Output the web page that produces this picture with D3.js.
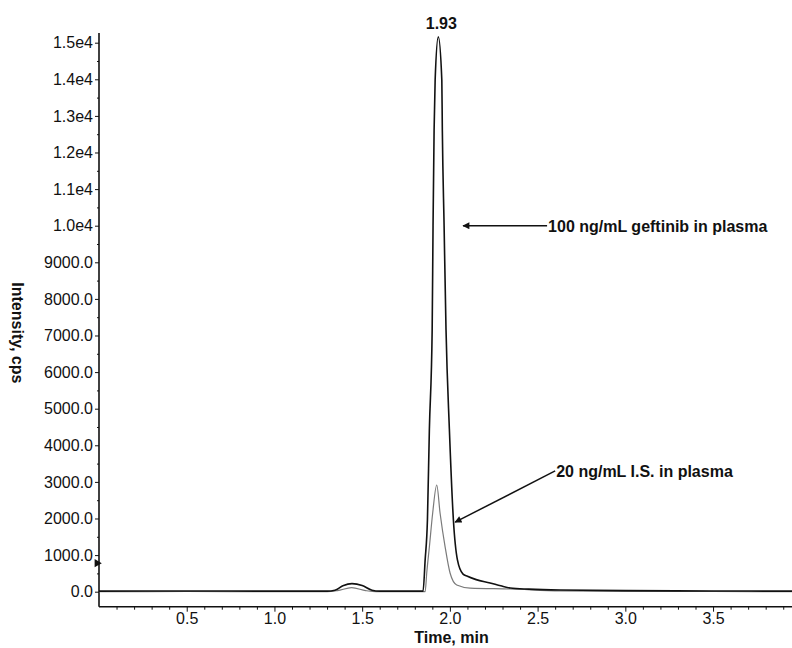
<!DOCTYPE html>
<html>
<head>
<meta charset="utf-8">
<script src="https://cdn.jsdelivr.net/npm/d3@7"></script>
<style>
  body { margin: 0; background: #fff; }
  svg { display: block; font-family: "Liberation Sans", Arial, sans-serif; }
</style>
</head>
<body>
<svg id="chart" width="792" height="648"></svg>
<script>
// chromatogram traces (time in min, intensity in cps)
const gefTime = [0.0, 0.5, 1.0, 1.30, 1.345, 1.39, 1.442, 1.50, 1.556, 1.60, 1.847, 1.859, 1.872, 1.883, 1.899, 1.904, 1.910, 1.916, 1.934,
  1.954, 1.957, 1.967, 1.978, 1.997, 2.020, 2.043, 2.075, 2.10, 2.15, 2.229, 2.29, 2.344, 2.45, 2.629, 3.0, 3.5, 3.95];
const gefValue = [15, 20, 15, 15, 40, 160, 220, 170, 40, 15, 15, 870, 1960, 4420, 7150, 10000, 12600, 13980, 15160,
  13980, 12600, 10000, 7150, 4450, 1960, 870, 480, 420, 330, 240, 160, 100, 70, 45, 30, 20, 15];

const isTime = [0.0, 0.5, 1.0, 1.30, 1.36, 1.44, 1.52, 1.58, 1.859, 1.868, 1.883, 1.902, 1.925, 1.944, 1.973, 2.001, 2.039, 2.115, 2.344, 2.629, 3.0, 3.5, 3.95];
const isValue = [0, 5, 0, 0, 30, 110, 30, 0, 0, 510, 1220, 2150, 2915, 2150, 1220, 510, 183, 100, 74, 20, 10, 5, 0];

const xTicks = [0.5, 1.0, 1.5, 2.0, 2.5, 3.0, 3.5];
const yTicks = d3.range(0, 15001, 1000);
const yTickLabels = ['0.0', '1000.0', '2000.0', '3000.0', '4000.0', '5000.0', '6000.0', '7000.0', '8000.0', '9000.0',
  '1.0e4', '1.1e4', '1.2e4', '1.3e4', '1.4e4', '1.5e4'];

const peakLabel = { t: 1.934, v: 15160, text: '1.93' };
const notes = [
  { text: '100 ng/mL geftinib in plasma', from: [2.554, 10000], to: [2.075, 10000] },
  { text: '20 ng/mL I.S. in plasma', from: [2.60, 3300], to: [2.03, 1900] }
];

const svg = d3.select('#chart');
const x = d3.scaleLinear().domain([0, 3.95]).range([99, 792]);
const y = d3.scaleLinear().domain([-410, 15265]).range([606.7, 33]);

const ink = '#111';

// arrow head marker
svg.append('defs').append('marker')
  .attr('id', 'head')
  .attr('viewBox', '0 0 10 10')
  .attr('refX', 9).attr('refY', 5)
  .attr('markerWidth', 9).attr('markerHeight', 7)
  .attr('markerUnits', 'userSpaceOnUse')
  .attr('orient', 'auto')
  .append('path').attr('d', 'M0,0 L10,5 L0,10 Z').attr('fill', ink);

// y axis
const yAxis = svg.append('g')
  .attr('transform', `translate(${x.range()[0]},0)`)
  .call(d3.axisLeft(y).tickValues(yTicks).tickSize(4).tickPadding(2)
    .tickFormat((d, i) => yTickLabels[i]));
yAxis.select('.domain').attr('d', `M0,${y.range()[1]}V${y.range()[0]}`).attr('stroke', ink).attr('stroke-width', 1.6);
yAxis.selectAll('.tick line').attr('stroke', ink);
yAxis.selectAll('.tick text').attr('fill', ink).style('font-size', '16px');
svg.append('g')
  .attr('transform', `translate(${x.range()[0]},0)`)
  .call(d3.axisLeft(y).tickValues(d3.range(500, 15001, 1000)).tickSize(2).tickFormat(''))
  .call(g => g.select('.domain').remove())
  .selectAll('line').attr('stroke', ink);

// x axis
const xAxis = svg.append('g')
  .attr('transform', `translate(0,${y.range()[0]})`)
  .call(d3.axisBottom(x).tickValues(xTicks).tickSize(5).tickPadding(1).tickFormat(d3.format('.1f')));
xAxis.select('.domain').attr('d', `M${x.range()[0]},0H${x.range()[1]}`).attr('stroke', ink).attr('stroke-width', 1.6);
xAxis.selectAll('.tick line').attr('stroke', ink);
xAxis.selectAll('.tick text').attr('fill', ink).style('font-size', '16px');
svg.append('g')
  .attr('transform', `translate(0,${y.range()[0]})`)
  .call(d3.axisBottom(x).tickValues(d3.range(1, 40).map(i => i / 10).filter(d => Math.abs(d * 2 - Math.round(d * 2)) > 1e-6)).tickSize(3).tickFormat(''))
  .call(g => g.select('.domain').remove())
  .selectAll('line').attr('stroke', ink);

// axis titles
svg.append('text')
  .attr('x', (x.range()[0] + x.range()[1]) / 2 + 6).attr('y', 643)
  .attr('text-anchor', 'middle').attr('font-weight', 'bold').style('font-size', '16px').attr('fill', ink)
  .text('Time, min');
svg.append('text')
  .attr('transform', `translate(12,${(y.range()[0] + y.range()[1]) / 2 + 13}) rotate(90)`)
  .attr('text-anchor', 'middle').attr('font-weight', 'bold').style('font-size', '16px').attr('fill', ink)
  .text('Intensity, cps');

// traces
const line = d3.line().curve(d3.curveMonotoneX).x(d => x(d[0])).y(d => y(d[1]));
svg.append('path')
  .datum(d3.zip(isTime, isValue))
  .attr('d', line).attr('fill', 'none').attr('stroke', '#7a7a7a').attr('stroke-width', 1.2);
svg.append('path')
  .datum(d3.zip(gefTime, gefValue))
  .attr('d', line).attr('fill', 'none').attr('stroke', ink).attr('stroke-width', 1.6);

// small threshold marker on the y axis
svg.append('path')
  .attr('d', d3.symbol(d3.symbolTriangle, 30)())
  .attr('transform', `translate(${x.range()[0] - 2},${y(780)}) rotate(90)`)
  .attr('fill', ink);

// peak label
svg.append('text')
  .attr('x', x(peakLabel.t) + 3).attr('y', y(peakLabel.v) - 8)
  .attr('text-anchor', 'middle').attr('font-weight', 'bold').style('font-size', '16px').attr('fill', ink)
  .text(peakLabel.text);

// annotations
notes.forEach(n => {
  svg.append('line')
    .attr('x1', x(n.from[0])).attr('y1', y(n.from[1]))
    .attr('x2', x(n.to[0])).attr('y2', y(n.to[1]))
    .attr('stroke', ink).attr('stroke-width', 1.5)
    .attr('marker-end', 'url(#head)');
  svg.append('text')
    .attr('x', x(n.from[0]) + 1).attr('y', y(n.from[1]) + 6)
    .attr('font-weight', 'bold').style('font-size', '16px').attr('fill', ink)
    .text(n.text);
});
</script>
</body>
</html>
